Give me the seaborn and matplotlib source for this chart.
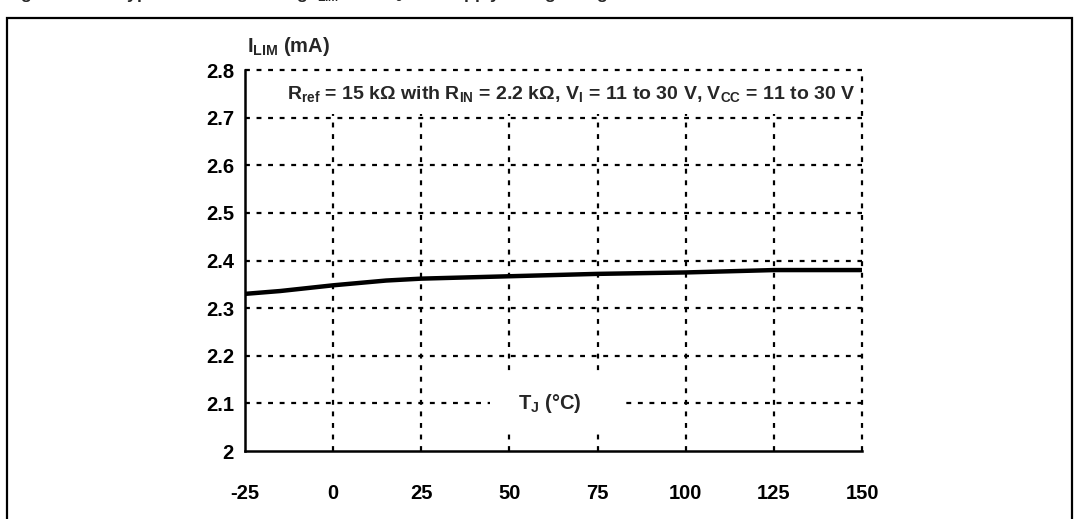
import matplotlib
matplotlib.use("Agg")
import matplotlib.pyplot as plt
from matplotlib.patches import Rectangle
import seaborn as sns

# junction temperature (°C) vs current limit (mA)
temps = [-25, -15, 0, 15, 25, 50, 75, 100, 115, 125, 150]
ilim = [2.330, 2.336, 2.348, 2.358, 2.362, 2.367, 2.372, 2.375, 2.378, 2.380, 2.380]

x_ticks = [-25, 0, 25, 50, 75, 100, 125, 150]
y_ticks = [2.0, 2.1, 2.2, 2.3, 2.4, 2.5, 2.6, 2.7, 2.8]
y_labels = ["2", "2.1", "2.2", "2.3", "2.4", "2.5", "2.6", "2.7", "2.8"]

sns.set_style("white")
plt.rcParams["font.family"] = ["Liberation Sans", "DejaVu Sans"]
plt.rcParams["font.weight"] = "bold"
plt.rcParams["mathtext.fontset"] = "custom"
plt.rcParams["mathtext.bf"] = "Liberation Sans:bold"
plt.rcParams["mathtext.rm"] = "Liberation Sans:bold"
plt.rcParams["mathtext.default"] = "bf"

fig = plt.figure(figsize=(10.8, 5.19), dpi=100)
ax = fig.add_axes([0.2269, 0.131, 0.5713, 0.734])

grid_kw = dict(color="black", lw=1.6, ls=(0, (2.2, 3)), zorder=0.5, clip_on=False)
for yv in y_ticks[1:]:
    ax.axhline(yv, **grid_kw)
for xv in x_ticks[1:]:
    ax.axvline(xv, **grid_kw)

# white boxes behind the two labels that sit inside the plot
ax.add_patch(Rectangle((-18, 2.707), 165, 0.086, facecolor="white",
                       edgecolor="none", zorder=1))
ax.add_patch(Rectangle((44.5, 2.035), 38.5, 0.13, facecolor="white",
                       edgecolor="none", zorder=1))

sns.lineplot(x=temps, y=ilim, ax=ax, color="black", lw=3.2, zorder=3)

ax.set_xlim(-25, 150)
ax.set_ylim(2.0, 2.8)
ax.set_xticks(x_ticks)
ax.set_xticklabels([str(t) for t in x_ticks])
ax.set_yticks(y_ticks)
ax.set_yticklabels(y_labels)
ax.tick_params(axis="both", direction="out", length=4, width=1.2,
               colors="black", labelsize=14.5)
ax.tick_params(axis="x", pad=20)
ax.tick_params(axis="y", pad=4)
for lab in ax.get_xticklabels() + ax.get_yticklabels():
    lab.set_fontweight("bold")

ax.spines["top"].set_visible(False)
ax.spines["right"].set_visible(False)
ax.spines["left"].set_linewidth(1.8)
ax.spines["bottom"].set_linewidth(1.8)
for s in ("left", "bottom"):
    ax.spines[s].set_color("black")

ax.text(148, 2.75,
        r"R$_{ref}$ = 15 k$\Omega$ with R$_{IN}$ = 2.2 k$\Omega$, V$_{I}$ = 11 to 30 V, V$_{CC}$ = 11 to 30 V",
        ha="right", va="center", fontsize=14, fontweight="bold", zorder=4)
ax.text(61.5, 2.1, r"T$_J$ ($\degree$C)", ha="center", va="center",
        fontsize=14.5, fontweight="bold", zorder=4)
ax.text(0.003, 1.062, r"I$_{LIM}$ (mA)", transform=ax.transAxes, ha="left",
        va="center", fontsize=14.5, fontweight="bold")

# outer frame and clipped caption line at the very top
fig.add_artist(Rectangle((0.0065, -0.02), 0.986, 0.985, transform=fig.transFigure,
                         fill=False, edgecolor="black", lw=1.6))
fig.text(0.005, 1 - 3.5 / 519, r"Figure 21.      Typical current limiting I$_{LIM}$ over T$_J$ and supply voltage range",
         ha="left", va="bottom", fontsize=12.5, fontweight="bold")

fig.savefig("out.png", dpi=100)
